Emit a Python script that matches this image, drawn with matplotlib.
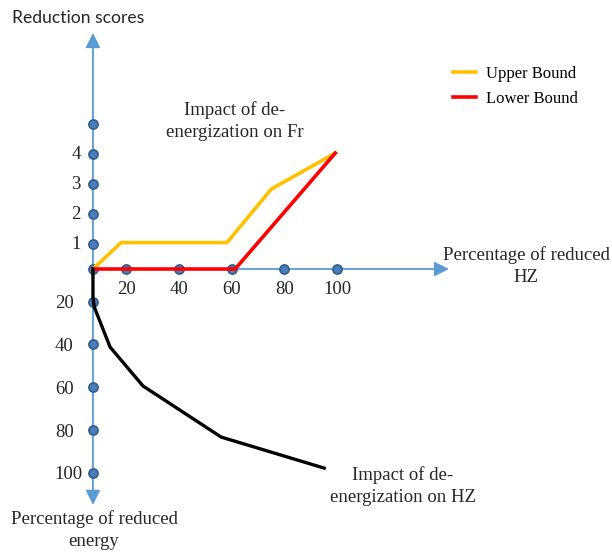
import matplotlib
matplotlib.use("Agg")
import matplotlib.pyplot as plt

# axis tick values
hz_ticks = [20, 40, 60, 80, 100]
score_ticks = [1, 2, 3, 4, 5]
score_labels = ["1", "2", "3", "4", ""]
energy_ticks = [20, 40, 60, 80, 100]

# origin of the diagram (where the three axes meet)
x0, s0, e0 = 7.3, 0.17, 4.7

# impact of de-energization on Fr (reduction scores)
upper_x = [x0, 18.0, 58.2, 75.0, 99.3]
upper_y = [s0, 1.05, 1.05, 2.83, 4.03]
lower_x = [x0, 61.3, 99.3]
lower_y = [s0, s0, 4.03]

# impact of de-energization on HZ (percentage of reduced energy)
hz_x = [x0, x0, 7.8, 13.8, 26.3, 56.0, 95.1]
hz_y = [e0, 18.0, 22.5, 41.2, 59.4, 83.3, 97.8]

axis_col = "#5B9BD5"
dot_col = "#4A7EBB"
dot_edge = "#35608F"
txt_col = "#262626"
serif = "Liberation Serif"
fs = 13.5

fig = plt.figure(figsize=(6.12, 5.53), dpi=100)
ax_top = fig.add_axes([0, 284 / 553, 1, 269 / 553])
ax_bot = fig.add_axes([0, 0, 1, 284 / 553])

ax_top.set_xlim(-28.0, 204.4)
ax_top.set_ylim(s0, 9.13)
ax_bot.set_xlim(-28.0, 204.4)
ax_bot.set_ylim(137.5, e0)
for a in (ax_top, ax_bot):
    a.axis("off")

arrow = dict(arrowstyle="-|>", color=axis_col, lw=1.3, mutation_scale=22,
             shrinkA=0, shrinkB=0)
ax_top.annotate("", xy=(142.5, s0), xytext=(x0, s0), arrowprops=arrow,
                annotation_clip=False)
ax_top.annotate("", xy=(x0, 8.03), xytext=(x0, s0), arrowprops=arrow,
                annotation_clip=False)
ax_bot.annotate("", xy=(x0, 115.0), xytext=(x0, e0), arrowprops=arrow,
                annotation_clip=False)

# dots on the axes
dot = dict(ls="none", marker="o", ms=6.5, mfc=dot_col, mec=dot_edge, mew=1.3,
           clip_on=False, zorder=3)
ax_top.plot([x0] + hz_ticks, [s0] * 6, **dot)
ax_top.plot([x0] * 5, score_ticks, **dot)
ax_bot.plot([x0] * 5, energy_ticks, **dot)

# tick labels
for v in hz_ticks:
    ax_top.text(v, -0.52, str(v), ha="center", va="center", fontsize=fs,
                family=serif, color=txt_col, clip_on=False)
for v, lab in zip(score_ticks, score_labels):
    ax_top.text(-0.9, v, lab, ha="left", va="center", fontsize=fs,
                family=serif, color=txt_col)
for v in energy_ticks:
    ax_bot.text(-7.2, v + 1, str(v), ha="left", va="center", fontsize=fs,
                family=serif, color=txt_col)

# curves
l_up, = ax_top.plot(upper_x, upper_y, color="#FFC000", lw=2.6, zorder=4,
                    clip_on=False, solid_joinstyle="miter")
l_lo, = ax_top.plot(lower_x, lower_y, color="#FF0000", lw=2.6, zorder=5,
                    clip_on=False, solid_joinstyle="miter")
ax_bot.plot(hz_x, hz_y, color="black", lw=2.4, zorder=4, clip_on=False)

# labels
fig.text(78 / 612, 1 - 18 / 553, "Reduction scores", ha="center", va="center",
         fontsize=12.6, family="Lato", color=txt_col)
fig.text(94 / 612, 1 - 530 / 553, "Percentage of reduced\nenergy", ha="center",
         va="center", fontsize=fs, family=serif, color=txt_col,
         linespacing=1.35)
fig.text(526 / 612, 1 - 266 / 553, "Percentage of reduced\nHZ", ha="center",
         va="center", fontsize=fs, family=serif, color=txt_col,
         linespacing=1.45)
fig.text(235 / 612, 1 - 121 / 553, "Impact of de-\nenergization on Fr",
         ha="center", va="center", fontsize=fs, family=serif,
         color=txt_col, linespacing=1.35)
fig.text(403 / 612, 1 - 486 / 553, "Impact of de-\nenergization on HZ",
         ha="center", va="center", fontsize=fs, family=serif,
         color=txt_col, linespacing=1.35)

fig.legend([l_up, l_lo], ["Upper Bound", "Lower Bound"], loc="upper left",
           bbox_to_anchor=(438 / 612, 1 - 51 / 553), frameon=False,
           prop=dict(family=serif, size=12), handlelength=1.4,
           handletextpad=0.6, labelspacing=0.55)

fig.savefig("out.png", dpi=100)
